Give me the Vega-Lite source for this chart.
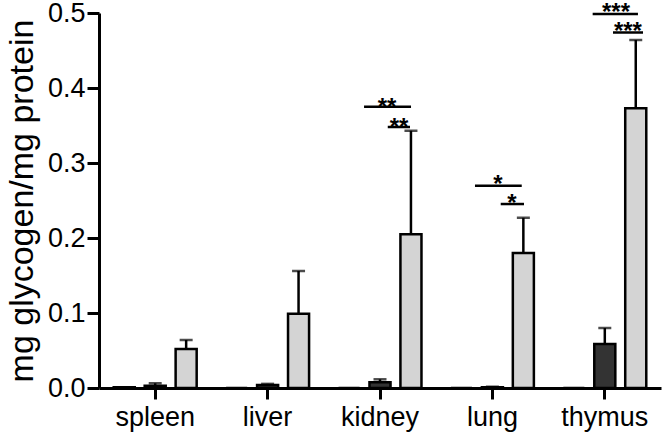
{
  "$schema": "https://vega.github.io/schema/vega-lite/v6.json",
  "autosize": {"type": "none"},
  "width": 562,
  "height": 375,
  "padding": {"left": 99, "top": 13, "right": 3, "bottom": 52},
  "background": "white",
  "config": {
    "view": {"stroke": null},
    "font": "Liberation Sans",
    "axis": {"domainColor": "black", "tickColor": "black", "labelColor": "black", "titleColor": "black", "labelFont": "Liberation Sans", "titleFont": "Liberation Sans"}
  },
  "datasets": {
    "bars": [
      {"organ": "spleen", "group": "A", "mean": 0.001, "upper": null},
      {"organ": "spleen", "group": "B", "mean": 0.003, "upper": 0.0063},
      {"organ": "spleen", "group": "C", "mean": 0.052, "upper": 0.064},
      {"organ": "liver", "group": "A", "mean": 0.0, "upper": null},
      {"organ": "liver", "group": "B", "mean": 0.004, "upper": 0.0055},
      {"organ": "liver", "group": "C", "mean": 0.099, "upper": 0.156},
      {"organ": "kidney", "group": "A", "mean": 0.0, "upper": null},
      {"organ": "kidney", "group": "B", "mean": 0.0076, "upper": 0.0116},
      {"organ": "kidney", "group": "C", "mean": 0.205, "upper": 0.343},
      {"organ": "lung", "group": "A", "mean": 0.0, "upper": null},
      {"organ": "lung", "group": "B", "mean": 0.001, "upper": 0.0017},
      {"organ": "lung", "group": "C", "mean": 0.18, "upper": 0.227},
      {"organ": "thymus", "group": "A", "mean": 0.0, "upper": null},
      {"organ": "thymus", "group": "B", "mean": 0.0587, "upper": 0.08},
      {"organ": "thymus", "group": "C", "mean": 0.373, "upper": 0.464}
    ],
    "sigLines": [
      {"u1": 2.358, "u2": 2.776, "v": 0.375},
      {"u1": 2.569, "u2": 2.767, "v": 0.348},
      {"u1": 3.345, "u2": 3.761, "v": 0.2697},
      {"u1": 3.574, "u2": 3.781, "v": 0.2453},
      {"u1": 4.392, "u2": 4.795, "v": 0.4987},
      {"u1": 4.573, "u2": 4.84, "v": 0.474}
    ],
    "sigText": [
      {"u": 2.562, "v": 0.364, "label": "**"},
      {"u": 2.669, "v": 0.3368, "label": "**"},
      {"u": 3.55, "v": 0.2613, "label": "*"},
      {"u": 3.674, "v": 0.236, "label": "*"},
      {"u": 4.6, "v": 0.4907, "label": "***"},
      {"u": 4.706, "v": 0.4657, "label": "***"}
    ]
  },
  "layer": [
    {
      "layer": [
        {
          "data": {"name": "bars"},
          "mark": {"type": "bar", "stroke": "black", "strokeWidth": 2.5},
          "encoding": {
            "x": {"field": "organ", "type": "nominal", "sort": ["spleen", "liver", "kidney", "lung", "thymus"],
                  "scale": {"paddingInner": 0.262, "paddingOuter": 0.131},
                  "axis": {"title": null, "labelAngle": 0, "labelFontSize": 27, "labelPadding": 5, "tickSize": 11, "tickWidth": 3, "domainWidth": 3}},
            "xOffset": {"field": "group", "type": "nominal", "sort": ["A", "B", "C"], "scale": {"paddingInner": 0.32, "paddingOuter": 0}},
            "y": {"field": "mean", "type": "quantitative",
                  "scale": {"domain": [0, 0.5], "nice": false},
                  "axis": {"title": "mg glycogen/mg protein", "titleFontSize": 34, "titleFontWeight": "normal", "titlePadding": 8, "values": [0, 0.1, 0.2, 0.3, 0.4, 0.5], "format": ".1f", "grid": false, "labelFontSize": 27, "labelPadding": 2, "tickSize": 12, "tickWidth": 3, "domainWidth": 3}},
            "fill": {"field": "group", "type": "nominal", "scale": {"domain": ["A", "B", "C"], "range": ["#ffffff", "#333333", "#d4d4d4"]}, "legend": null}
          }
        },
        {
          "data": {"name": "bars"},
          "transform": [{"filter": "datum.upper != null"}],
          "mark": {"type": "rule", "color": "black", "strokeWidth": 2.5},
          "encoding": {
            "x": {"field": "organ", "type": "nominal", "sort": ["spleen", "liver", "kidney", "lung", "thymus"]},
            "xOffset": {"field": "group", "type": "nominal", "sort": ["A", "B", "C"]},
            "y": {"field": "mean", "type": "quantitative"},
            "y2": {"field": "upper"}
          }
        },
        {
          "data": {"name": "bars"},
          "transform": [{"filter": "datum.upper != null"}],
          "mark": {"type": "tick", "orient": "horizontal", "color": "black", "size": 13, "thickness": 2.5},
          "encoding": {
            "x": {"field": "organ", "type": "nominal", "sort": ["spleen", "liver", "kidney", "lung", "thymus"]},
            "xOffset": {"field": "group", "type": "nominal", "sort": ["A", "B", "C"]},
            "y": {"field": "upper", "type": "quantitative"}
          }
        }
      ]
    },
    {
      "layer": [
        {
          "data": {"name": "sigLines"},
          "mark": {"type": "rule", "color": "black", "strokeWidth": 2.5},
          "encoding": {
            "x": {"field": "u1", "type": "quantitative", "scale": {"domain": [0, 5], "nice": false, "zero": false}, "axis": null},
            "x2": {"field": "u2"},
            "y": {"field": "v", "type": "quantitative"}
          }
        },
        {
          "data": {"name": "sigText"},
          "mark": {"type": "text", "fontSize": 24, "fontWeight": "bold", "font": "Liberation Sans", "baseline": "alphabetic", "align": "center", "color": "black"},
          "encoding": {
            "x": {"field": "u", "type": "quantitative", "scale": {"domain": [0, 5], "nice": false, "zero": false}, "axis": null},
            "y": {"field": "v", "type": "quantitative"},
            "text": {"field": "label"}
          }
        }
      ]
    }
  ],
  "resolve": {"scale": {"x": "independent"}}
}
